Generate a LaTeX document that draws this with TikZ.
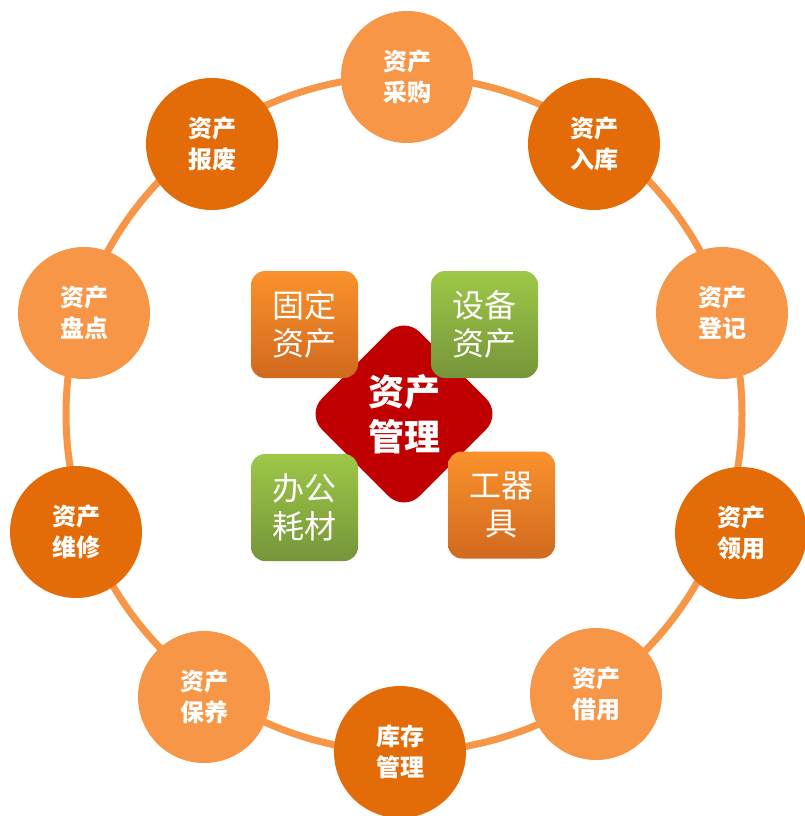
\documentclass[tikz,border=0pt]{standalone}
\usepackage{fontspec}
\newfontfamily\cjk{Noto Sans CJK SC}
\usetikzlibrary{backgrounds}
\definecolor{lightorange}{HTML}{F79646}
\definecolor{darkorange}{HTML}{E36C09}
\definecolor{hubred}{HTML}{C00000}
\definecolor{tileorangetop}{HTML}{FA922C}
\definecolor{tileorangebot}{HTML}{D1691F}
\definecolor{tilegreentop}{HTML}{9DC847}
\definecolor{tilegreenbot}{HTML}{76953A}

\begin{document}
\begin{tikzpicture}[
    x=1pt, y=-1pt,
    light step/.style={circle, fill=lightorange, minimum size=132pt, inner sep=0pt, outer sep=0pt,
        text=white, align=center, font=\cjk\bfseries\fontsize{24}{31}\selectfont},
    dark step/.style={light step, fill=darkorange},
    ring/.style={draw, line width=7pt, lightorange},
    hub/.style={rectangle, rotate=45, fill=hubred, rounded corners=22pt, minimum size=138pt, inner sep=0pt},
    hub label/.style={text=white, align=center, font=\cjk\bfseries\fontsize{36}{45}\selectfont},
    tile/.style={rectangle, rounded corners=14pt, minimum size=107pt, inner sep=0pt,
        text=white, align=center, font=\cjk\fontsize{32}{38}\selectfont},
    orange tile/.style={tile, top color=tileorangetop, bottom color=tileorangebot},
    green tile/.style={tile, top color=tilegreentop, bottom color=tilegreenbot}
]
    \useasboundingbox (0,0) rectangle (804,816);

    % centre
    \node[hub] (hub) at (404,414) {};
    \node[hub label] (hub-text) at (hub.center) {资产\\管理};

    \node[orange tile] (t-1) at (304.5,324.5) {固定\\资产};
    \node[green tile]  (t-2) at (484.5,324.5) {设备\\资产};
    \node[green tile]  (t-3) at (304.5,507.5) {办公\\耗材};
    \node[orange tile] (t-4) at (501.5,505)   {工器\\具};

    % steps round the ring
    \foreach \x/\y/\c/\t [count=\i] in {
        407/77/light/{资产\\采购},
        594/144/dark/{资产\\入库},
        722/313/light/{资产\\登记},
        741/533/dark/{资产\\领用},
        596/694/light/{资产\\借用},
        400/752/dark/{库存\\管理},
        204/697/light/{资产\\保养},
        76/532/dark/{资产\\维修},
        84/313/light/{资产\\盘点},
        212/144/dark/{资产\\报废}} {
        \node[\c\space step] (s-\i) at (\x,\y) {\t};
    }

    \begin{scope}[on background layer]
        \draw[ring] (hub.center) circle[radius=338pt];
    \end{scope}

\end{tikzpicture}
\end{document}
